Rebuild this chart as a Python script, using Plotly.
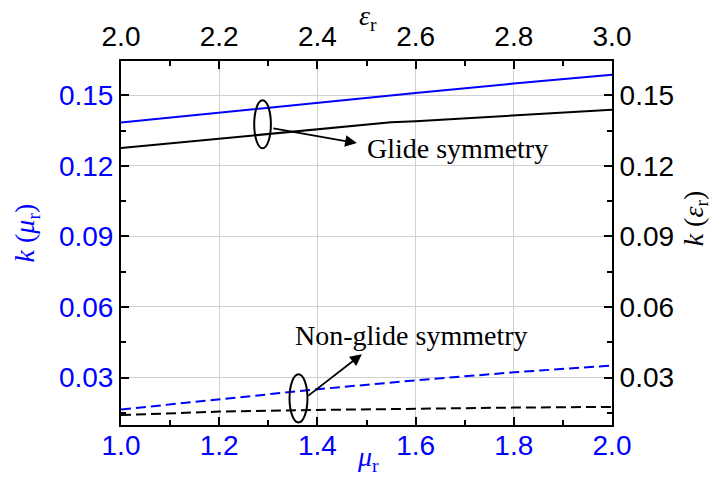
import plotly.graph_objects as go

# ---- data ----
mu_r = [1.0, 1.2, 1.4, 1.6, 1.8, 2.0]
k_mu_glide = [0.1384, 0.1427, 0.1468, 0.1510, 0.1550, 0.1588]
k_mu_nonglide = [0.0164, 0.0208, 0.0250, 0.0288, 0.0322, 0.0351]

eps_r = [2.0, 2.2, 2.4, 2.55, 2.6, 2.8, 3.0]
k_eps_glide = [0.1276, 0.1316, 0.1356, 0.1385, 0.1390, 0.1414, 0.1439]
eps_r_ng = [2.0, 2.2, 2.4, 2.6, 2.8, 3.0]
k_eps_nonglide = [0.0140, 0.0155, 0.0162, 0.0168, 0.0172, 0.0175]

x_ticks = [1.0, 1.2, 1.4, 1.6, 1.8, 2.0]
x2_ticks = [2.0, 2.2, 2.4, 2.6, 2.8, 3.0]
y_ticks = [0.03, 0.06, 0.09, 0.12, 0.15]

BLUE = "#0000FF"
SANS = "Arial, Liberation Sans, sans-serif"
SERIF = "Times New Roman, Liberation Serif, serif"
TF = 28

fig = go.Figure()
fig.add_trace(go.Scatter(x=mu_r, y=k_mu_glide, mode="lines",
                         line=dict(color=BLUE, width=2), xaxis="x", yaxis="y"))
fig.add_trace(go.Scatter(x=mu_r, y=k_mu_nonglide, mode="lines",
                         line=dict(color=BLUE, width=2, dash="10px,5px"), xaxis="x", yaxis="y"))
fig.add_trace(go.Scatter(x=eps_r, y=k_eps_glide, mode="lines",
                         line=dict(color="black", width=2), xaxis="x2", yaxis="y2"))
fig.add_trace(go.Scatter(x=eps_r_ng, y=k_eps_nonglide, mode="lines",
                         line=dict(color="black", width=2, dash="10px,5px"), xaxis="x2", yaxis="y2"))

yr = [0.0098, 0.1646]
common = dict(showline=True, linecolor="black", linewidth=2, ticks="inside",
              ticklen=8, tickwidth=1.5, tickcolor="black", zeroline=False)

fig.update_layout(
    width=713, height=479,
    margin=dict(l=121, r=101, t=61, b=54, autoexpand=False),
    plot_bgcolor="white", paper_bgcolor="white",
    showlegend=False,
    xaxis=dict(range=[1.0, 2.0], tickvals=x_ticks, ticktext=[f"{v:.1f}" for v in x_ticks],
               tickfont=dict(family=SANS, size=TF, color=BLUE), ticklabelstandoff=-6,
               showgrid=True, gridcolor="#d0d0d0", gridwidth=1,
               minor=dict(ticks="inside", ticklen=5, dtick=0.1, tick0=1.0, tickcolor="black", showgrid=False),
               **common),
    xaxis2=dict(range=[2.0, 3.0], overlaying="x", side="top", anchor="y",
                tickvals=x2_ticks, ticktext=[f"{v:.1f}" for v in x2_ticks],
                tickfont=dict(family=SANS, size=TF, color="black"), ticklabelstandoff=2,
                showgrid=False,
                minor=dict(ticks="inside", ticklen=5, dtick=0.1, tick0=2.0, tickcolor="black"),
                **common),
    yaxis=dict(range=yr, tickvals=y_ticks, ticktext=[f"{v:.2f}" for v in y_ticks],
               tickfont=dict(family=SANS, size=TF, color=BLUE),
               showgrid=True, gridcolor="#d0d0d0", gridwidth=1,
               minor=dict(ticks="inside", ticklen=5, dtick=0.015, tick0=0.0, tickcolor="black", showgrid=False),
               **common),
    yaxis2=dict(range=yr, overlaying="y", side="right", anchor="x",
                tickvals=y_ticks, ticktext=[f"{v:.2f}" for v in y_ticks],
                tickfont=dict(family=SANS, size=TF, color="black"),
                showgrid=False,
                minor=dict(ticks="inside", ticklen=5, dtick=0.015, tick0=0.0, tickcolor="black"),
                **common),
)

# axis titles
ttl = dict(xref="paper", yref="paper", showarrow=False, xanchor="center", yanchor="middle")
fig.add_annotation(x=-0.193, y=0.527, text="<i>k</i> (<i>μ</i><sub>r</sub>)", textangle=-90,
                   font=dict(family=SERIF, size=TF, color=BLUE), **ttl)
fig.add_annotation(x=1.170, y=0.569, text="<i>k</i> (<i>ε</i><sub>r</sub>)", textangle=-90,
                   font=dict(family=SERIF, size=TF, color="black"), **ttl)
fig.add_annotation(x=0.503, y=1.120, text="<i>ε</i><sub>r</sub>",
                   font=dict(family=SERIF, size=TF, color="black"), **ttl)
fig.add_annotation(x=0.503, y=-0.092, text="<i>μ</i><sub>r</sub>",
                   font=dict(family=SERIF, size=TF, color=BLUE), **ttl)

# ellipses
fig.add_shape(type="circle", xref="x", yref="y", x0=1.2713, x1=1.3053, y0=0.12748, y1=0.14788,
              line=dict(color="black", width=2))
fig.add_shape(type="circle", xref="x", yref="y", x0=1.3432, x1=1.3798, y0=0.01091, y1=0.03138,
              line=dict(color="black", width=2))

# arrows
fig.add_annotation(x=1.4804, y=0.1297, ax=1.3073, ay=0.1361, xref="x", yref="y", axref="x", ayref="y",
                   showarrow=True, arrowhead=2, arrowsize=1.3, arrowwidth=1.8, arrowcolor="black", text="")
fig.add_annotation(x=1.4905, y=0.03993, ax=1.3786, ay=0.02179, xref="x", yref="y", axref="x", ayref="y",
                   showarrow=True, arrowhead=2, arrowsize=1.3, arrowwidth=1.8, arrowcolor="black", text="")

# labels
fig.add_annotation(x=1.4973, y=0.1275, xref="x", yref="y", text="Glide symmetry", showarrow=False,
                   xanchor="left", yanchor="middle", font=dict(family=SERIF, size=28, color="black"))
fig.add_annotation(x=1.3507, y=0.0480, xref="x", yref="y", text="Non-glide symmetry", showarrow=False,
                   xanchor="left", yanchor="middle", font=dict(family=SERIF, size=28, color="black"))

fig.write_html("out.html")
